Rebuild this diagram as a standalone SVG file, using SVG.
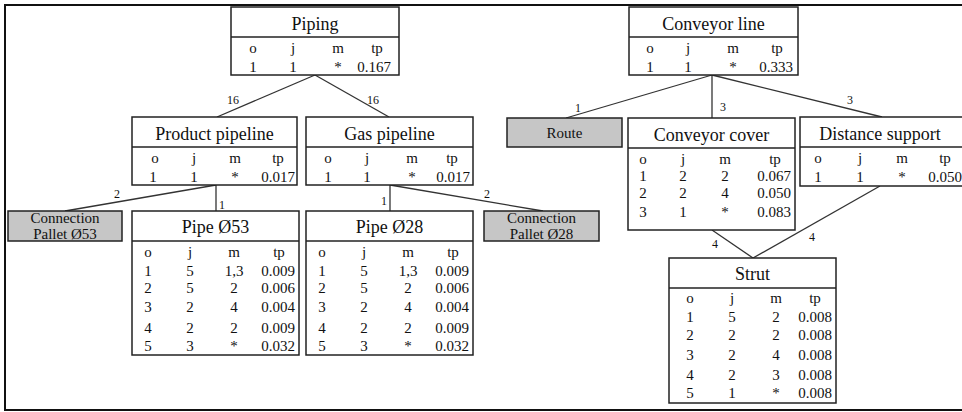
<svg xmlns="http://www.w3.org/2000/svg" width="962" height="412" viewBox="0 0 962 412" font-family="'Liberation Serif', serif">
  <style>
    .box { fill: #fff; stroke: #222; stroke-width: 1.5; }
    .grey { fill: #c6c6c6; stroke: #222; stroke-width: 1.5; }
    .sep { stroke: #222; stroke-width: 1.5; }
    .title { font-family: 'Liberation Serif', serif; font-size: 18px; text-anchor: middle; fill: #111; }
    .cell { font-family: 'Liberation Serif', serif; font-size: 15px; text-anchor: middle; fill: #111; }
    .gtxt { font-family: 'Liberation Serif', serif; font-size: 15px; text-anchor: middle; fill: #111; }
    .elbl { font-family: 'Liberation Serif', serif; font-size: 12px; text-anchor: middle; fill: #111; }
    .conn line { stroke: #333; stroke-width: 1.3; }
  </style>

  <!-- frame -->
  <rect x="5" y="5" width="964" height="405" fill="#fff" stroke="#111" stroke-width="2"/>

  <!-- connectors -->
  <g id="connectors" class="conn">
    <line x1="315" y1="75" x2="217" y2="117"/>
    <line x1="315" y1="75" x2="389" y2="117"/>
    <line x1="216" y1="185" x2="65" y2="211"/>
    <line x1="216" y1="185" x2="216" y2="211"/>
    <line x1="390" y1="185" x2="390" y2="211"/>
    <line x1="390" y1="185" x2="543" y2="211"/>
    <line x1="712" y1="75" x2="566" y2="118"/>
    <line x1="712" y1="75" x2="712" y2="118"/>
    <line x1="712" y1="75" x2="882" y2="117"/>
    <line x1="712" y1="230" x2="753" y2="258"/>
    <line x1="880" y1="186" x2="753" y2="258"/>
    <text class="elbl" x="233" y="104">16</text>
    <text class="elbl" x="373" y="104">16</text>
    <text class="elbl" x="117" y="198">2</text>
    <text class="elbl" x="222" y="209">1</text>
    <text class="elbl" x="384" y="205">1</text>
    <text class="elbl" x="487" y="198">2</text>
    <text class="elbl" x="578" y="112">1</text>
    <text class="elbl" x="723" y="111">3</text>
    <text class="elbl" x="850" y="104">3</text>
    <text class="elbl" x="715" y="248">4</text>
    <text class="elbl" x="812" y="241">4</text>
  </g>

  <!-- Piping -->
  <g id="piping">
    <rect class="box" x="231" y="7" width="168" height="68"/>
    <line class="sep" x1="231" y1="37" x2="399" y2="37"/>
    <text class="title" x="315" y="29.5">Piping</text>
    <text class="cell" y="53"><tspan x="253">o</tspan><tspan x="293">j</tspan><tspan x="338">m</tspan><tspan x="377">tp</tspan></text>
    <text class="cell" y="72"><tspan x="253">1</tspan><tspan x="293">1</tspan><tspan x="338">*</tspan><tspan x="374">0.167</tspan></text>
  </g>

  <!-- Product pipeline -->
  <g id="product-pipeline">
    <rect class="box" x="132" y="117" width="165" height="68"/>
    <line class="sep" x1="132" y1="147" x2="297" y2="147"/>
    <text class="title" x="214.5" y="140">Product pipeline</text>
    <text class="cell" y="163"><tspan x="155">o</tspan><tspan x="194">j</tspan><tspan x="235">m</tspan><tspan x="278">tp</tspan></text>
    <text class="cell" y="182"><tspan x="153">1</tspan><tspan x="194">1</tspan><tspan x="235">*</tspan><tspan x="278">0.017</tspan></text>
  </g>

  <!-- Gas pipeline -->
  <g id="gas-pipeline">
    <rect class="box" x="306" y="117" width="167" height="68"/>
    <line class="sep" x1="306" y1="147" x2="473" y2="147"/>
    <text class="title" x="389.5" y="140">Gas pipeline</text>
    <text class="cell" y="163"><tspan x="328">o</tspan><tspan x="367">j</tspan><tspan x="412">m</tspan><tspan x="452">tp</tspan></text>
    <text class="cell" y="182"><tspan x="328">1</tspan><tspan x="367">1</tspan><tspan x="412">*</tspan><tspan x="453">0.017</tspan></text>
  </g>

  <!-- Connection Pallet Ø53 -->
  <g id="connection-pallet-53">
    <rect class="grey" x="8" y="211" width="114" height="30"/>
    <text class="gtxt" x="65" y="223">Connection</text>
    <text class="gtxt" x="65" y="239">Pallet Ø53</text>
  </g>

  <!-- Pipe Ø53 -->
  <g id="pipe-53">
    <rect class="box" x="132" y="211" width="167" height="144"/>
    <line class="sep" x1="132" y1="241" x2="299" y2="241"/>
    <text class="title" x="215.5" y="233">Pipe Ø53</text>
    <text class="cell" y="257"><tspan x="148">o</tspan><tspan x="190">j</tspan><tspan x="234">m</tspan><tspan x="279">tp</tspan></text>
    <text class="cell" y="276"><tspan x="148">1</tspan><tspan x="190">5</tspan><tspan x="234">1,3</tspan><tspan x="278">0.009</tspan></text>
    <text class="cell" y="293"><tspan x="148">2</tspan><tspan x="190">5</tspan><tspan x="234">2</tspan><tspan x="278">0.006</tspan></text>
    <text class="cell" y="312"><tspan x="148">3</tspan><tspan x="190">2</tspan><tspan x="234">4</tspan><tspan x="278">0.004</tspan></text>
    <text class="cell" y="333"><tspan x="148">4</tspan><tspan x="190">2</tspan><tspan x="234">2</tspan><tspan x="278">0.009</tspan></text>
    <text class="cell" y="351"><tspan x="148">5</tspan><tspan x="190">3</tspan><tspan x="234">*</tspan><tspan x="278">0.032</tspan></text>
  </g>

  <!-- Pipe Ø28 -->
  <g id="pipe-28">
    <rect class="box" x="306" y="211" width="167" height="144"/>
    <line class="sep" x1="306" y1="241" x2="473" y2="241"/>
    <text class="title" x="389.5" y="233">Pipe Ø28</text>
    <text class="cell" y="257"><tspan x="322">o</tspan><tspan x="364">j</tspan><tspan x="408">m</tspan><tspan x="453">tp</tspan></text>
    <text class="cell" y="276"><tspan x="322">1</tspan><tspan x="364">5</tspan><tspan x="408">1,3</tspan><tspan x="452">0.009</tspan></text>
    <text class="cell" y="293"><tspan x="322">2</tspan><tspan x="364">5</tspan><tspan x="408">2</tspan><tspan x="452">0.006</tspan></text>
    <text class="cell" y="312"><tspan x="322">3</tspan><tspan x="364">2</tspan><tspan x="408">4</tspan><tspan x="452">0.004</tspan></text>
    <text class="cell" y="333"><tspan x="322">4</tspan><tspan x="364">2</tspan><tspan x="408">2</tspan><tspan x="452">0.009</tspan></text>
    <text class="cell" y="351"><tspan x="322">5</tspan><tspan x="364">3</tspan><tspan x="408">*</tspan><tspan x="452">0.032</tspan></text>
  </g>

  <!-- Connection Pallet Ø28 -->
  <g id="connection-pallet-28">
    <rect class="grey" x="484" y="211" width="115" height="30"/>
    <text class="gtxt" x="541.5" y="223">Connection</text>
    <text class="gtxt" x="541.5" y="239">Pallet Ø28</text>
  </g>

  <!-- Conveyor line -->
  <g id="conveyor-line">
    <rect class="box" x="629" y="7" width="169" height="68"/>
    <line class="sep" x1="629" y1="37" x2="798" y2="37"/>
    <text class="title" x="713.5" y="29.5">Conveyor line</text>
    <text class="cell" y="53"><tspan x="650">o</tspan><tspan x="688">j</tspan><tspan x="733">m</tspan><tspan x="777">tp</tspan></text>
    <text class="cell" y="72"><tspan x="650">1</tspan><tspan x="688">1</tspan><tspan x="733">*</tspan><tspan x="776">0.333</tspan></text>
  </g>

  <!-- Route -->
  <g id="route">
    <rect class="grey" x="507" y="118" width="115" height="29"/>
    <text class="gtxt" x="564.5" y="138">Route</text>
  </g>

  <!-- Conveyor cover -->
  <g id="conveyor-cover">
    <rect class="box" x="628" y="118" width="167" height="112"/>
    <line class="sep" x1="628" y1="148" x2="795" y2="148"/>
    <text class="title" x="711.5" y="141">Conveyor cover</text>
    <text class="cell" y="164"><tspan x="643">o</tspan><tspan x="683">j</tspan><tspan x="725">m</tspan><tspan x="775">tp</tspan></text>
    <text class="cell" y="181"><tspan x="643">1</tspan><tspan x="683">2</tspan><tspan x="725">2</tspan><tspan x="774">0.067</tspan></text>
    <text class="cell" y="198"><tspan x="643">2</tspan><tspan x="683">2</tspan><tspan x="725">4</tspan><tspan x="774">0.050</tspan></text>
    <text class="cell" y="217"><tspan x="643">3</tspan><tspan x="683">1</tspan><tspan x="725">*</tspan><tspan x="774">0.083</tspan></text>
  </g>

  <!-- Distance support -->
  <g id="distance-support">
    <rect class="box" x="800" y="117" width="170" height="69"/>
    <line class="sep" x1="800" y1="147" x2="970" y2="147"/>
    <text class="title" x="880" y="140">Distance support</text>
    <text class="cell" y="163"><tspan x="818">o</tspan><tspan x="860">j</tspan><tspan x="902">m</tspan><tspan x="945">tp</tspan></text>
    <text class="cell" y="182"><tspan x="818">1</tspan><tspan x="860">1</tspan><tspan x="902">*</tspan><tspan x="945">0.050</tspan></text>
  </g>

  <!-- Strut -->
  <g id="strut">
    <rect class="box" x="669" y="258" width="167" height="145"/>
    <line class="sep" x1="669" y1="288" x2="836" y2="288"/>
    <text class="title" x="752.5" y="280">Strut</text>
    <text class="cell" y="303"><tspan x="690">o</tspan><tspan x="732">j</tspan><tspan x="776">m</tspan><tspan x="815">tp</tspan></text>
    <text class="cell" y="322"><tspan x="690">1</tspan><tspan x="732">5</tspan><tspan x="776">2</tspan><tspan x="815">0.008</tspan></text>
    <text class="cell" y="340"><tspan x="690">2</tspan><tspan x="732">2</tspan><tspan x="776">2</tspan><tspan x="815">0.008</tspan></text>
    <text class="cell" y="360"><tspan x="690">3</tspan><tspan x="732">2</tspan><tspan x="776">4</tspan><tspan x="815">0.008</tspan></text>
    <text class="cell" y="380"><tspan x="690">4</tspan><tspan x="732">2</tspan><tspan x="776">3</tspan><tspan x="815">0.008</tspan></text>
    <text class="cell" y="398"><tspan x="690">5</tspan><tspan x="732">1</tspan><tspan x="776">*</tspan><tspan x="815">0.008</tspan></text>
  </g>
</svg>
